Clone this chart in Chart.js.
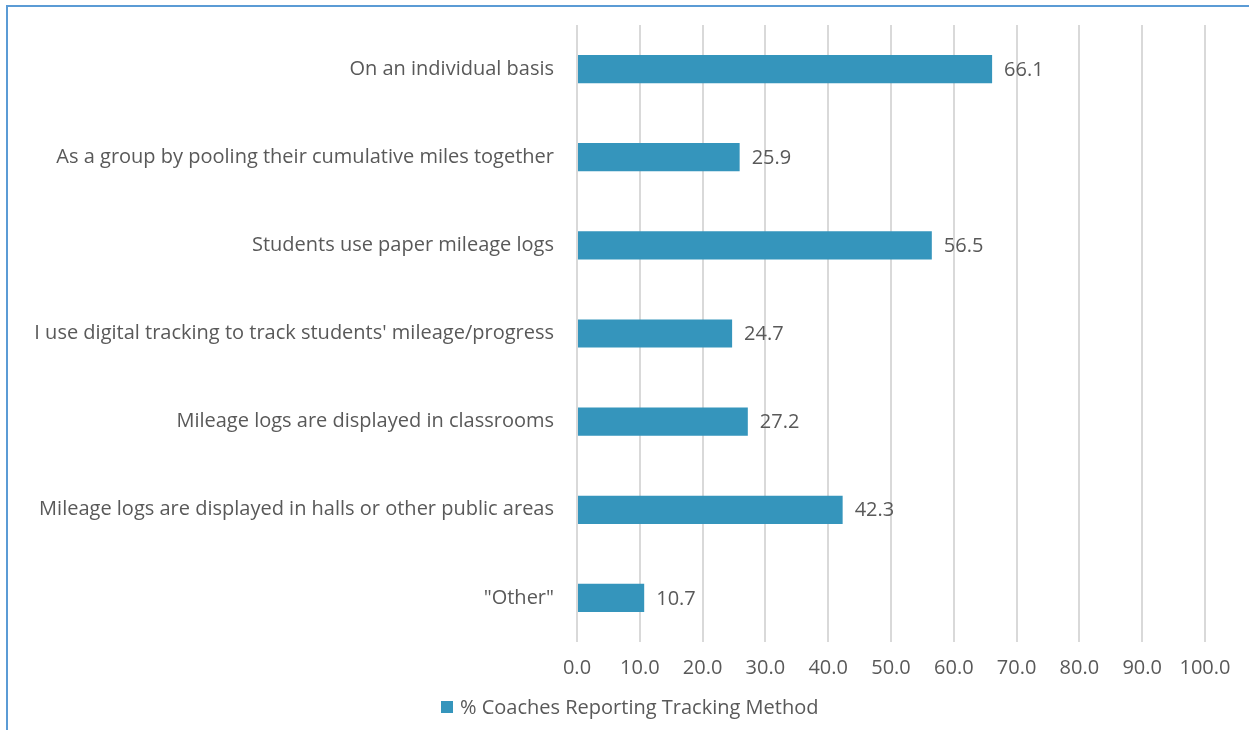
<!DOCTYPE html>
<html>
<head>
<meta charset="utf-8">
<script src="https://cdn.jsdelivr.net/npm/chart.js@4"></script>
<style>
  html, body { margin: 0; padding: 0; background: #fff; }
  #wrap { position: relative; width: 1249px; height: 730px; }
  #frame { position: absolute; left: 6px; top: 5px; right: 0; bottom: 0;
           border-left: 2px solid #5b9bd5; border-top: 2px solid #5b9bd5; }
  canvas { position: absolute; left: 0; top: 0; }
</style>
</head>
<body>
<div id="wrap">
  <div id="frame"></div>
  <canvas id="chart" width="1249" height="730"></canvas>
</div>
<script>
const categories = [
  'On an individual basis',
  'As a group by pooling their cumulative miles together',
  'Students use paper mileage logs',
  "I use digital tracking to track students' mileage/progress",
  'Mileage logs are displayed in classrooms',
  'Mileage logs are displayed in halls or other public areas',
  '"Other"'
];
const percentValues = [66.1, 25.9, 56.5, 24.7, 27.2, 42.3, 10.7];
const seriesName = '% Coaches Reporting Tracking Method';

const barColor = '#3595bc';
const textColor = '#595959';
const fontFamily = '"Open Sans", "Noto Sans", sans-serif';
const fontSize = 20;

// value next to each bar end + legend under the axis
const valueLabels = {
  id: 'valueLabels',
  afterDatasetsDraw(chart) {
    const ctx = chart.ctx;
    const meta = chart.getDatasetMeta(0);
    ctx.save();
    ctx.font = fontSize + 'px ' + fontFamily;
    ctx.fillStyle = textColor;
    ctx.textAlign = 'left';
    ctx.textBaseline = 'middle';
    meta.data.forEach((bar, i) => {
      ctx.fillText(percentValues[i].toFixed(1), bar.x + 12, bar.y + 1);
    });

    // legend
    const ds = chart.data.datasets[0];
    ctx.fillStyle = ds.backgroundColor;
    ctx.fillRect(441, 701, 12, 12);
    ctx.fillStyle = textColor;
    ctx.fillText(ds.label, 460, 708);
    ctx.restore();
  }
};

new Chart(document.getElementById('chart'), {
  type: 'bar',
  data: {
    labels: categories,
    datasets: [{
      label: seriesName,
      data: percentValues,
      backgroundColor: barColor,
      borderWidth: 0,
      categoryPercentage: 1,
      barPercentage: 0.32
    }]
  },
  options: {
    indexAxis: 'y',
    responsive: false,
    animation: false,
    layout: { padding: { left: 0, right: 44, top: 25, bottom: 36 } },
    plugins: {
      legend: { display: false },
      tooltip: { enabled: false }
    },
    scales: {
      x: {
        min: 0,
        max: 100,
        ticks: {
          stepSize: 10,
          color: textColor,
          font: { family: fontFamily, size: fontSize },
          padding: 14,
          callback: v => Number(v).toFixed(1)
        },
        grid: { color: '#d9d9d9', lineWidth: 2, drawTicks: false },
        border: { display: false }
      },
      y: {
        afterFit(scale) {
          scale.width = 577;
          scale.paddingTop = 0;
          scale.paddingBottom = 0;
        },
        ticks: {
          color: textColor,
          font: { family: fontFamily, size: fontSize },
          padding: 23
        },
        grid: { display: false, drawTicks: false },
        border: { display: false }
      }
    }
  },
  plugins: [valueLabels]
});
</script>
</body>
</html>
